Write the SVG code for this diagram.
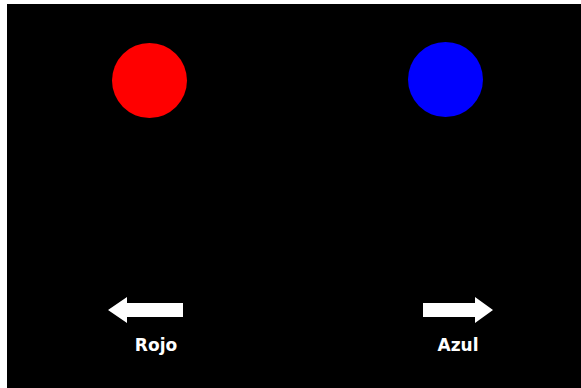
<svg xmlns="http://www.w3.org/2000/svg" width="581" height="388" viewBox="0 0 581 388">
<style>
.lbl{font-family:"DejaVu Sans","Liberation Sans",sans-serif;font-weight:bold;font-size:17px;fill:#fff;text-anchor:middle}
.arr{fill:#fff}
</style>
<rect width="581" height="388" fill="#fff"/>
<rect x="7" y="4" width="574" height="384" fill="#000"/>
<g id="red"><circle cx="149.5" cy="80.5" r="37.5" fill="#ff0000"/></g>
<g id="blue"><circle cx="445.5" cy="79.5" r="37.5" fill="#0000ff"/></g>
<g id="connectors">
<polygon class="arr" points="108,310 127,297 127,303 183,303 183,317 127,317 127,323"/>
<polygon class="arr" points="493,310 475,297 475,303 423,303 423,317 475,317 475,323"/>
</g>
<g id="rojo"><text class="lbl" x="156" y="351">Rojo</text></g>
<g id="azul"><text class="lbl" x="458" y="351">Azul</text></g>
</svg>
